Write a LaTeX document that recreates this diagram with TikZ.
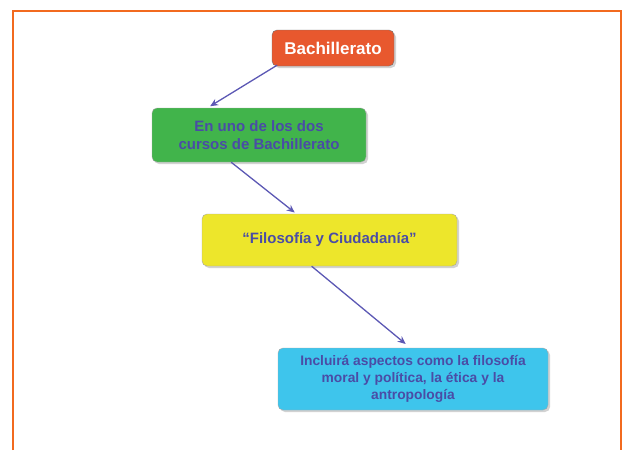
\documentclass[tikz,border=0pt]{standalone}
\usepackage{fontspec}
\setmainfont{Liberation Sans}
\usepackage{xcolor}
\usetikzlibrary{shadows,arrows.meta,calc}
\definecolor{frameorange}{HTML}{F26A1F}
\definecolor{boxred}{HTML}{E8582E}
\definecolor{boxgreen}{HTML}{41B44B}
\definecolor{boxyellow}{HTML}{EDE62B}
\definecolor{boxcyan}{HTML}{3EC5EC}
\definecolor{txtblue}{HTML}{4A4CA6}
\definecolor{arrowblue}{HTML}{5C58B4}

\begin{document}
\begin{tikzpicture}[x=1pt,y=-1pt,
  box/.style={draw=black!35,rounded corners=5pt,drop shadow={shadow xshift=2pt,shadow yshift=-2pt,fill=black!35},align=center,font=\bfseries,text=txtblue},
  link/.style={draw=arrowblue,line width=1.3pt,-{Stealth[length=8pt,width=7pt]}}]
\useasboundingbox (0,0) rectangle (624,450);
\draw[frameorange,line width=1.5pt] (13,450) -- (13,11) -- (621,11) -- (621,450);

\node (bach) at (333,48)[box,fill=boxred,draw=black!55,text=white,minimum width=122pt,minimum height=36pt,font=\bfseries\fontsize{17}{20}\selectfont]{Bachillerato};
\node (curso) at (259,135)[box,fill=boxgreen,minimum width=214pt,minimum height=54pt,font=\bfseries\fontsize{15}{18}\selectfont]{En uno de los dos\\cursos de Bachillerato};
\node (filo) at (329.5,240)[box,fill=boxyellow,minimum width=255pt,minimum height=52pt,font=\bfseries\fontsize{15}{18}\selectfont]{``Filosofía y Ciudadanía''};
\node (antro) at (413,379)[box,fill=boxcyan,minimum width=270pt,minimum height=62pt,font=\bfseries\fontsize{13.8}{17}\selectfont]{Incluirá aspectos como la filosofía\\moral y política, la ética y la\\antropología};

% conexiones
\draw[link,shorten <=-2pt,shorten >=3pt] ($(bach.south west)!0.03!(bach.south east)$) -- ($(curso.north west)!0.26!(curso.north east)$);
\draw[link,shorten >=2pt] ($(curso.south west)!0.37!(curso.south east)$) -- ($(filo.north west)!0.37!(filo.north east)$);
\draw[link,shorten >=6pt] ($(filo.south west)!0.43!(filo.south east)$) -- ($(antro.north west)!0.49!(antro.north east)$);
\end{tikzpicture}
\end{document}
